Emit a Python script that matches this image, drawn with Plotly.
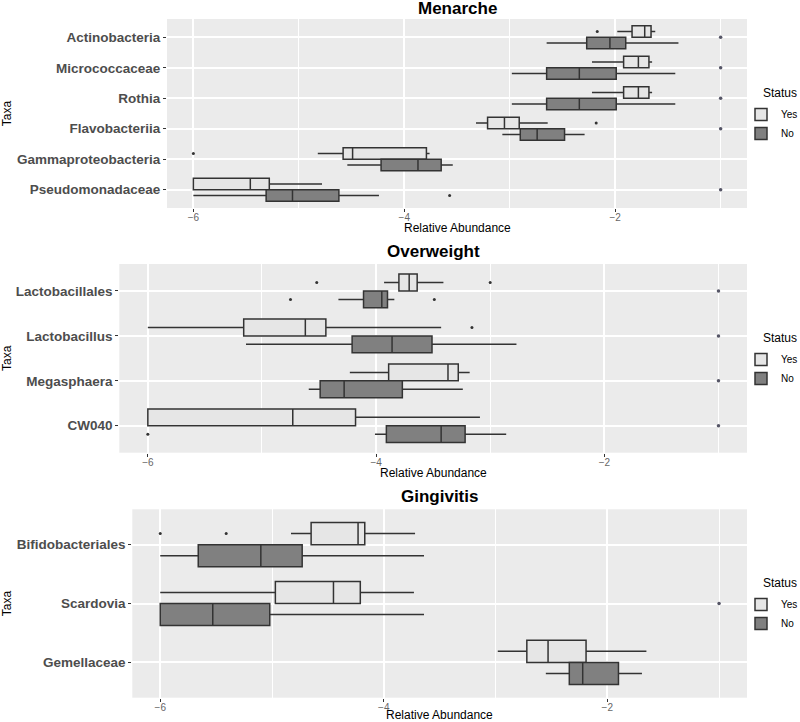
import plotly.graph_objects as go

# ---------------- data ----------------
status_levels = ["Yes", "No"]

# Panel 1: Menarche
men_taxa = ["Actinobacteria", "Micrococcaceae", "Rothia", "Flavobacteriia",
            "Gammaproteobacteria", "Pseudomonadaceae"]
men_yes_lo = [-1.98, -2.22, -2.22, -3.32, -4.82, -6.00]
men_yes_q1 = [-1.84, -1.92, -1.92, -3.21, -4.58, -6.00]
men_yes_med = [-1.72, -1.78, -1.78, -3.05, -4.49, -5.46]
men_yes_q3 = [-1.66, -1.68, -1.68, -2.91, -3.79, -5.28]
men_yes_hi = [-1.62, -1.65, -1.65, -2.64, -3.76, -4.78]
men_yes_out = [[-2.17], [], [], [-2.18], [-6.00], []]
men_no_lo = [-2.65, -2.98, -2.98, -3.07, -4.54, -6.00]
men_no_q1 = [-2.27, -2.65, -2.65, -2.90, -4.22, -5.31]
men_no_med = [-2.05, -2.34, -2.34, -2.74, -3.87, -5.06]
men_no_q3 = [-1.90, -1.99, -1.99, -2.48, -3.65, -4.62]
men_no_hi = [-1.40, -1.43, -1.43, -2.29, -3.54, -4.24]
men_no_out = [[], [], [], [], [], [-3.57]]
men_extra_taxa = ["Actinobacteria", "Micrococcaceae", "Rothia", "Flavobacteriia",
                  "Pseudomonadaceae"]
men_extra_val = [-1.0, -1.0, -1.0, -1.0, -1.0]

# Panel 2: Overweight
ow_taxa = ["Lactobacillales", "Lactobacillus", "Megasphaera", "CW040"]
ow_yes_lo = [-3.93, -6.00, -4.23, -6.00]
ow_yes_q1 = [-3.80, -5.16, -3.89, -6.00]
ow_yes_med = [-3.71, -4.62, -3.37, -4.73]
ow_yes_q3 = [-3.64, -4.44, -3.28, -4.18]
ow_yes_hi = [-3.41, -3.43, -3.18, -3.09]
ow_yes_out = [[-4.52, -3.00], [-3.16], [], []]
ow_no_lo = [-4.33, -5.14, -4.59, -4.01]
ow_no_q1 = [-4.11, -4.21, -4.49, -3.91]
ow_no_med = [-3.95, -3.86, -4.28, -3.43]
ow_no_q3 = [-3.90, -3.51, -3.77, -3.22]
ow_no_hi = [-3.84, -2.77, -3.24, -2.86]
ow_no_out = [[-4.75, -3.49], [], [], [-6.00]]
ow_extra_taxa = ["Lactobacillales", "Lactobacillus", "Megasphaera", "CW040"]
ow_extra_val = [-1.0, -1.0, -1.0, -1.0]

# Panel 3: Gingivitis
gi_taxa = ["Bifidobacteriales", "Scardovia", "Gemellaceae"]
gi_yes_lo = [-4.83, -6.00, -2.98]
gi_yes_q1 = [-4.65, -4.97, -2.72]
gi_yes_med = [-4.23, -4.45, -2.53]
gi_yes_q3 = [-4.17, -4.21, -2.19]
gi_yes_hi = [-3.72, -3.73, -1.65]
gi_yes_out = [[-6.00, -5.41], [], []]
gi_no_lo = [-6.00, -6.00, -2.55]
gi_no_q1 = [-5.66, -6.00, -2.34]
gi_no_med = [-5.10, -5.53, -2.22]
gi_no_q3 = [-4.73, -5.02, -1.90]
gi_no_hi = [-3.64, -3.64, -1.69]
gi_no_out = [[], [], []]
gi_extra_taxa = ["Scardovia"]
gi_extra_val = [-1.0]

x_title = "Relative Abundance"
y_title = "Taxa"
status_title = "Status"

# ---------------- styling ----------------
W, H = 800, 722
FONT = "Liberation Sans, Arial, sans-serif"
BG = "#EBEBEB"
LINE = "#333333"
FILLS = {"Yes": "#E6E6E6", "No": "#808080"}


def px_x(p):
    return p / W


def px_y(p):
    return 1 - p / H


panels = [
    dict(title="Menarche", taxa=men_taxa,
         stats={"Yes": (men_yes_lo, men_yes_q1, men_yes_med, men_yes_q3, men_yes_hi, men_yes_out),
                "No": (men_no_lo, men_no_q1, men_no_med, men_no_q3, men_no_hi, men_no_out)},
         extra=(men_extra_taxa, men_extra_val),
         xdom=(167, 747), ydom=(19, 208), title_y=9, legend_top=86),
    dict(title="Overweight", taxa=ow_taxa,
         stats={"Yes": (ow_yes_lo, ow_yes_q1, ow_yes_med, ow_yes_q3, ow_yes_hi, ow_yes_out),
                "No": (ow_no_lo, ow_no_q1, ow_no_med, ow_no_q3, ow_no_hi, ow_no_out)},
         extra=(ow_extra_taxa, ow_extra_val),
         xdom=(119.3, 747), ydom=(264, 452.7), title_y=251, legend_top=331),
    dict(title="Gingivitis", taxa=gi_taxa,
         stats={"Yes": (gi_yes_lo, gi_yes_q1, gi_yes_med, gi_yes_q3, gi_yes_hi, gi_yes_out),
                "No": (gi_no_lo, gi_no_q1, gi_no_med, gi_no_q3, gi_no_hi, gi_no_out)},
         extra=(gi_extra_taxa, gi_extra_val),
         xdom=(132.3, 747), ydom=(509.3, 697.7), title_y=496, legend_top=576),
]

fig = go.Figure()
annotations = []
layout = {}

for i, p in enumerate(panels):
    k = "" if i == 0 else str(i + 1)
    xa, ya = "x" + k, "y" + k
    leg = "legend" + k
    for s in status_levels:
        lo, q1, med, q3, hi, out = p["stats"][s]
        # plotly needs a non-empty row to recognise the 2-D sample array
        pts = [o if len(o) else [None] for o in out]
        fig.add_trace(go.Box(
            name=s, legend=leg, legendgroup=s + k,
            y=p["taxa"], x=pts,
            q1=q1, median=med, q3=q3, lowerfence=lo, upperfence=hi,
            orientation="h", xaxis=xa, yaxis=ya,
            fillcolor=FILLS[s], line=dict(color=LINE, width=1.5),
            whiskerwidth=0, boxpoints="outliers", pointpos=0, jitter=0,
            marker=dict(color=LINE, size=3),
            offsetgroup=s, alignmentgroup="g" + k,
            hoverinfo="skip",
        ))
    et, ev = p["extra"]
    fig.add_trace(go.Scatter(
        x=ev, y=et, mode="markers", xaxis=xa, yaxis=ya,
        marker=dict(color="#555566", size=3.5), showlegend=False, hoverinfo="skip",
    ))
    n = len(p["taxa"])
    layout["xaxis" + k] = dict(
        domain=[px_x(p["xdom"][0]), px_x(p["xdom"][1])], anchor=ya,
        range=[-6.25, -0.75], tick0=-6, dtick=2, tickformat="d",
        showgrid=True, gridcolor="white", gridwidth=1.6, zeroline=False,
        minor=dict(dtick=1, tick0=-6, showgrid=True, gridcolor="white", gridwidth=0.7, ticks=""),
        ticks="outside", ticklen=3, tickwidth=1, tickcolor=LINE,
        ticklabelstandoff=-3,
        tickfont=dict(family=FONT, size=10, color="#666666"),
        showline=False, fixedrange=True, automargin=False,
    )
    layout["yaxis" + k] = dict(
        domain=[px_y(p["ydom"][1]), px_y(p["ydom"][0])], anchor=xa,
        type="category", categoryorder="array", categoryarray=p["taxa"],
        range=[n - 0.4, -0.6],
        showgrid=True, gridcolor="white", gridwidth=1.6, zeroline=False,
        ticks="outside", ticklen=3, tickwidth=1.2, tickcolor=LINE,
        tickfont=dict(family=FONT, size=13.5, color="#4D4D4D", weight="bold"),
        title=dict(text=y_title, font=dict(family=FONT, size=12, color="black"), standoff=4),
        showline=False, fixedrange=True, automargin=False,
    )
    layout[leg] = dict(
        x=px_x(741), y=px_y(p["legend_top"] + 14), xanchor="left", yanchor="top",
        bgcolor="rgba(0,0,0,0)", traceorder="normal",
        font=dict(family=FONT, size=10, color="black"),
        itemwidth=30, tracegroupgap=0, borderwidth=0,
    )
    annotations.append(dict(
        text="<b>%s</b>" % p["title"], xref="paper", yref="paper",
        x=px_x((p["xdom"][0] + p["xdom"][1]) / 2), y=px_y(p["title_y"]),
        xanchor="center", yanchor="middle", showarrow=False,
        font=dict(family=FONT, size=17, color="black"),
    ))
    annotations.append(dict(
        text=x_title, xref="paper", yref="paper",
        x=px_x((p["xdom"][0] + p["xdom"][1]) / 2),
        y=px_y(min(p["ydom"][1] + 20, H - 7.5)),
        xanchor="center", yanchor="middle", showarrow=False,
        font=dict(family=FONT, size=12, color="black"),
    ))
    annotations.append(dict(
        text=status_title, xref="paper", yref="paper",
        x=px_x(761), y=px_y(p["legend_top"] + 7),
        xanchor="left", yanchor="middle", showarrow=False,
        font=dict(family=FONT, size=12, color="black"),
    ))

fig.update_layout(
    width=W, height=H, margin=dict(l=0, r=0, t=0, b=0, autoexpand=False),
    paper_bgcolor="white", plot_bgcolor=BG,
    boxmode="group", boxgap=0.25, boxgroupgap=0,
    annotations=annotations,
    font=dict(family=FONT),
    **layout,
)

# remove the browser's default 8px page margin so the figure fills the window
fig.write_html(
    "out.html",
    config={"displayModeBar": False},
    post_script="document.body.style.margin='0';document.body.style.overflow='hidden';",
)
